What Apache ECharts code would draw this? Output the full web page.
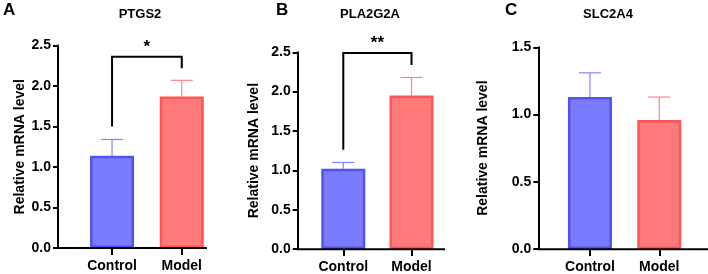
<!DOCTYPE html>
<html><head><meta charset="utf-8">
<script src="https://cdn.jsdelivr.net/npm/echarts@6/dist/echarts.min.js"></script>
<style>html,body{margin:0;padding:0;background:#fff}#c{width:708px;height:274px}</style>
</head><body><div id="c"></div>
<script>
const categories = ['Control', 'Model'];
const panelTitles = ['PTGS2', 'PLA2G2A', 'SLC2A4'];
const panelLetters = ['A', 'B', 'C'];
const meanA = [1.14, 1.87];
const sdA = [0.20, 0.20];
const meanB = [1.02, 1.95];
const sdB = [0.08, 0.23];
const meanC = [1.13, 0.96];
const sdC = [0.18, 0.17];
const yMaxes = [2.5, 2.5, 1.5];
const yInterval = 0.5;
const yAxisTitle = 'Relative mRNA level';
// bracket: [left leg bottom, top, right leg bottom]
const bracketA = [1.50, 2.36, 2.22];
const bracketB = [1.26, 2.49, 2.34];
const sigA = '*';
const sigB = '**';

const FONT = "'Liberation Sans', Arial, sans-serif";
const fills = ['#7b7bff', '#ff7b7b'];
const borders = ['#5252f0', '#ff5555'];
const errColors = ['#8484ff', '#ff8484'];

const means = [meanA, meanB, meanC];
const sds = [sdA, sdB, sdC];
const brackets = [bracketA, bracketB, null];
const sigs = [sigA, sigB, null];

const layout = [
  {yx: 58, left: 77.2, top: 45.5, width: 139.4, height: 202.5, xEnd: 207, nameGap: 31, titleX: 140, letterX: 3},
  {yx: 297.7, left: 309.2, top: 52.3, width: 136.4, height: 197, xEnd: 445, nameGap: 36.5, titleX: 370, letterX: 276},
  {yx: 538.3, left: 555.3, top: 47.3, width: 138.6, height: 202, xEnd: 708, nameGap: 48, titleX: 608, letterX: 505}
];

const grids = [], xAxes = [], yAxes = [], series = [], graphics = [];
layout.forEach((L, i) => {
  grids.push({left: L.left, top: L.top, width: L.width, height: L.height});
  xAxes.push({
    type: 'category', gridIndex: i, data: categories,
    axisLine: {show: false},
    axisTick: {show: true, alignWithLabel: true, length: 7, lineStyle: {color: '#000', width: 2}},
    axisLabel: {color: '#000', fontWeight: 'bold', fontSize: 14, fontFamily: FONT, margin: 11}
  });
  yAxes.push({
    type: 'value', gridIndex: i, min: 0, max: yMaxes[i], interval: yInterval,
    offset: L.left - L.yx,
    name: yAxisTitle, nameLocation: 'middle', nameGap: L.nameGap,
    nameTextStyle: {color: '#000', fontWeight: 'bold', fontSize: 14, fontFamily: FONT},
    axisLine: {show: true, lineStyle: {color: '#000', width: 2}},
    axisTick: {show: true, length: 5, lineStyle: {color: '#000', width: 2}},
    axisLabel: {color: '#000', fontWeight: 'bold', fontSize: 14, fontFamily: FONT, margin: 7,
      formatter: v => v.toFixed(1)},
    splitLine: {show: false}
  });
  series.push({
    type: 'bar', xAxisIndex: i, yAxisIndex: i, barWidth: 44, z: 3,
    data: means[i].map((v, k) => ({value: v, itemStyle: {color: fills[k], borderColor: borders[k], borderWidth: 2.5}}))
  });
  series.push({
    type: 'custom', xAxisIndex: i, yAxisIndex: i, z: 2,
    data: means[i].map((v, k) => [k, v, sds[i][k]]),
    renderItem: (params, api) => {
      const k = api.value(0), m = api.value(1), s = api.value(2);
      const b = api.coord([k, m]), t = api.coord([k, m + s]);
      const c = errColors[k];
      return {type: 'group', children: [
        {type: 'line', shape: {x1: b[0], y1: b[1], x2: t[0], y2: t[1]}, style: {stroke: c, lineWidth: 1.2}},
        {type: 'line', shape: {x1: t[0] - 11, y1: t[1], x2: t[0] + 11, y2: t[1]}, style: {stroke: c, lineWidth: 1.2}}
      ]};
    }
  });
  if (brackets[i]) {
    const br = brackets[i], sg = sigs[i];
    series.push({
      type: 'custom', xAxisIndex: i, yAxisIndex: i, z: 4, clip: false,
      data: [[0, 1, br[0], br[1], br[2]]],
      renderItem: (params, api) => {
        const p1 = api.coord([api.value(0), api.value(2)]);
        const p2 = api.coord([api.value(0), api.value(3)]);
        const p3 = api.coord([api.value(1), api.value(3)]);
        const p4 = api.coord([api.value(1), api.value(4)]);
        return {type: 'group', children: [
          {type: 'polyline', shape: {points: [p1, p2, p3, p4]}, style: {stroke: '#000', lineWidth: 2, fill: null}},
          {type: 'text', style: {text: sg, x: (p2[0] + p3[0]) / 2, y: p2[1] - 1, align: 'center', verticalAlign: 'bottom',
            fill: '#000', font: 'bold 17px ' + FONT}}
        ]};
      }
    });
  }
  const y0 = L.top + L.height;
  graphics.push({type: 'line', shape: {x1: L.yx - 1, y1: y0, x2: L.xEnd, y2: y0}, style: {stroke: '#000', lineWidth: 2}, z: 10});
  graphics.push({type: 'text', x: L.titleX, y: 14, style: {text: panelTitles[i], align: 'center', verticalAlign: 'middle',
    fill: '#000', font: 'bold 13px ' + FONT}});
  graphics.push({type: 'text', x: L.letterX, y: 10, style: {text: panelLetters[i], align: 'left', verticalAlign: 'middle',
    fill: '#000', font: 'bold 17px ' + FONT}});
});

const chart = echarts.init(document.getElementById('c'), null, {renderer: 'canvas'});
chart.setOption({
  animation: false,
  backgroundColor: '#fff',
  grid: grids, xAxis: xAxes, yAxis: yAxes, series: series, graphic: graphics
});
</script></body></html>
